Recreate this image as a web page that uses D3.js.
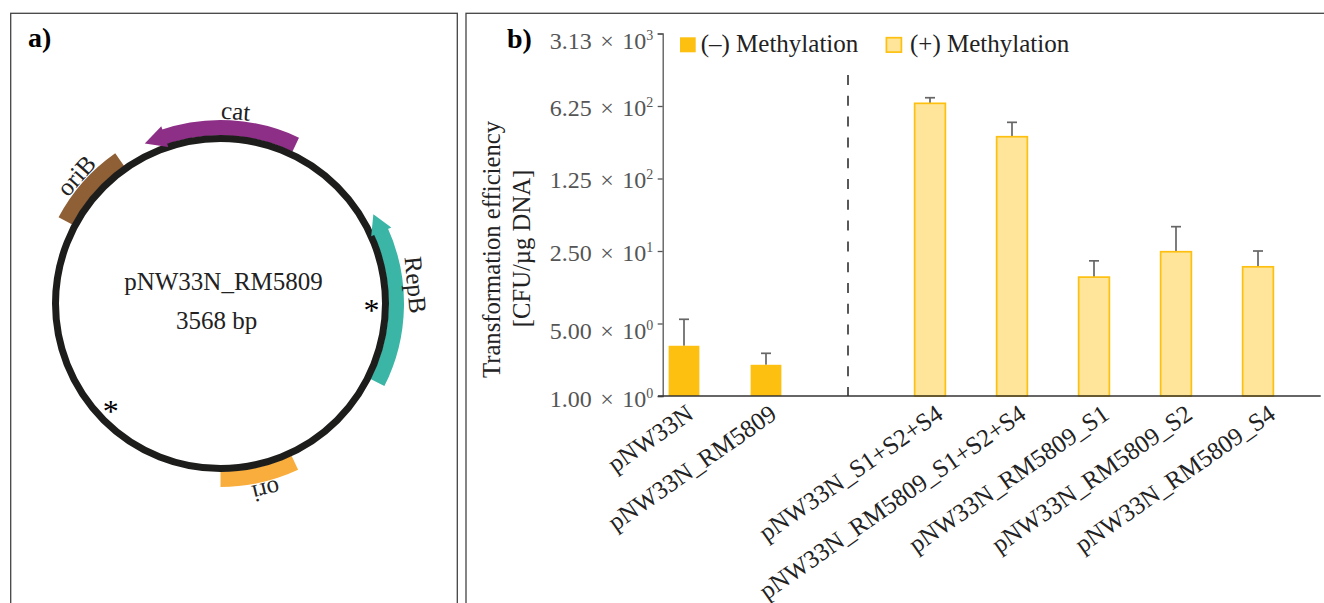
<!DOCTYPE html>
<html>
<head>
<meta charset="utf-8">
<script src="https://d3js.org/d3.v7.min.js"></script>
<style>
  body { margin: 0; background: #fff; overflow: hidden; }
  svg { display: block; }
  text { font-family: "Liberation Serif", serif; font-size: 25px; fill: #222; }
  .panel { fill: none; stroke: #444; stroke-width: 1.3; }
  .tag { font-size: 28px; font-weight: bold; fill: #000; }
</style>
</head>
<body>
<svg id="chart" width="1324" height="603"></svg>
<script>
// plasmid map, positions in bp from 12 o'clock (negative = before the origin)
const plasmidName = "pNW33N_RM5809";
const plasmidSize = 3568;
const featureNames = ["cat", "oriB", "RepB", "ori"];
const featureStart = [-183, -614, 654, 1536];
const featureEnd = [251, -347, 1157, 1784];
const featureTip = [-251, null, 592, null];
const featureLabelAt = [45, -480, 838, 1649];
const featureColors = ["#8e2f87", "#8f5f35", "#3ab5a6", "#f9ad3d"];
const siteMarks = [902, -1322];

// bar chart values
const categories = ["pNW33N", "pNW33N_RM5809", "", "pNW33N_S1+S2+S4", "pNW33N_RM5809_S1+S2+S4",
  "pNW33N_RM5809_S1", "pNW33N_RM5809_S2", "pNW33N_RM5809_S4"];
const efficiency = [3.05, 2.0, null, 663, 316, 14.0, 24.6, 17.6];
const upperError = [5.49, 2.58, null, 751, 435, 20.1, 42.9, 25.0];
const methylated = [false, false, null, true, true, true, true, true];
const tickValues = [1, 5, 25, 125, 625, 3125];
const tickMantissa = ["1.00", "5.00", "2.50", "1.25", "6.25", "3.13"];
const tickExponent = ["0", "0", "1", "2", "2", "3"];
const legendLabels = ["(\u2013) Methylation", "(+) Methylation"];

const svg = d3.select("#chart");

// panel frames run off the bottom of the page
svg.append("rect").attr("class", "panel").attr("x", 10.7).attr("y", 13.3).attr("width", 446.6).attr("height", 620);
svg.append("rect").attr("class", "panel").attr("x", 466).attr("y", 13.3).attr("width", 900).attr("height", 620);
svg.append("text").attr("class", "tag").attr("x", 28).attr("y", 47).text("a)");
svg.append("text").attr("class", "tag").attr("x", 507).attr("y", 48).text("b)");

// ---- a) plasmid
const map = svg.append("g").attr("transform", "translate(220.5,303.5)");
const angle = d3.scaleLinear().domain([0, plasmidSize]).range([0, 2 * Math.PI]);
const ringR = 165, shaftIn = 168, shaftOut = 183.5, headIn = 165, headOut = 187;

const arc = d3.arc().innerRadius(shaftIn).outerRadius(shaftOut);
const headLine = d3.lineRadial().angle(d => angle(d[0])).radius(d => d[1]);

featureNames.forEach((name, i) => {
  let a0 = featureStart[i], a1 = featureEnd[i];
  // small overlap so no seam shows under the arrow head
  if (featureTip[i] !== null) a0 += featureTip[i] < a0 ? -6 : 6;
  map.append("path")
    .attr("d", arc({ startAngle: angle(a0), endAngle: angle(a1) }))
    .attr("fill", featureColors[i]);
});

map.append("circle").attr("r", ringR).attr("fill", "none").attr("stroke", "#1d1d1b").attr("stroke-width", 7);

// arrow heads sit on top of the ring
featureNames.forEach((name, i) => {
  if (featureTip[i] === null) return;
  let a0 = featureStart[i];
  map.append("path")
    .attr("d", headLine([[a0, headIn], [featureTip[i], 177], [a0, headOut]]) + "Z")
    .attr("fill", featureColors[i]);
});

featureNames.forEach((name, i) => {
  let deg = angle(featureLabelAt[i]) * 180 / Math.PI;
  map.append("text")
    .attr("transform", "rotate(" + deg + ") translate(0," + (name === "RepB" ? -196 : -193) + ")")
    .attr("text-anchor", "middle")
    .attr("dominant-baseline", "central")
    .text(name);
});

// methylation sites
siteMarks.forEach(bp => {
  let a = angle(bp);
  map.append("text")
    .attr("x", Math.sin(a) * 151)
    .attr("y", -Math.cos(a) * 151 + 15)
    .attr("text-anchor", "middle")
    .style("font-size", "32px")
    .style("fill", "#000")
    .text("*");
});

map.append("text").attr("x", 3).attr("y", -13.5).attr("text-anchor", "middle").text(plasmidName);
map.append("text").attr("x", -4).attr("y", 25.5).attr("text-anchor", "middle").text(plasmidSize + " bp");

// ---- b) bars
const y = d3.scaleLog().domain([1, 3125]).range([396, 33.5]);
const x = d3.scaleBand().domain(categories).range([643, 1299]).paddingInner(0.625).paddingOuter(0.3125);
const xMid = d => x(d) + x.bandwidth() / 2;

const rows = categories.map((c, i) => ({ c: c, v: efficiency[i], up: upperError[i], m: methylated[i] }))
  .filter(d => d.v !== null);

const errorColor = "#666";
svg.append("g").selectAll("line").data(rows).enter().append("line")
  .attr("x1", d => xMid(d.c)).attr("x2", d => xMid(d.c))
  .attr("y1", d => y(d.v)).attr("y2", d => y(d.up))
  .attr("stroke", errorColor).attr("stroke-width", 1.7);
svg.append("g").selectAll("line").data(rows).enter().append("line")
  .attr("x1", d => xMid(d.c) - 5).attr("x2", d => xMid(d.c) + 5)
  .attr("y1", d => y(d.up)).attr("y2", d => y(d.up))
  .attr("stroke", errorColor).attr("stroke-width", 1.7);

svg.append("g").selectAll("rect").data(rows).enter().append("rect")
  .attr("x", d => x(d.c))
  .attr("width", x.bandwidth())
  .attr("y", d => y(d.v))
  .attr("height", d => y(1) - y(d.v))
  .attr("fill", d => d.m ? "#fee599" : "#fdc010")
  .attr("stroke", d => d.m ? "#fdc010" : "none")
  .attr("stroke-width", 1.7);

// divider between the two groups sits in the empty band
svg.append("line")
  .attr("x1", xMid("")).attr("x2", xMid(""))
  .attr("y1", 75).attr("y2", y(1))
  .attr("stroke", "#222").attr("stroke-width", 1.5)
  .attr("stroke-dasharray", "10,10.8");

// y axis
const yAxis = svg.append("g")
  .attr("transform", "translate(662.7,0)")
  .call(d3.axisLeft(y).tickValues(tickValues).tickSizeOuter(0).tickSize(5));
yAxis.selectAll("path,line").attr("stroke", "#555").attr("stroke-width", 1.3);
yAxis.selectAll("text").each(function (d) {
  let i = tickValues.indexOf(d);
  let t = d3.select(this).text(null)
    .attr("x", -9.5)
    .attr("dy", null)
    .attr("y", (d === 5 || d === 3125) ? 14.5 : (d === 1 ? 10.7 : 9.2))
    .style("font-family", '"Liberation Serif", serif')
    .style("font-size", "24px")
    .style("word-spacing", "2.5px")
    .style("fill", "#555");
  t.append("tspan").text(tickMantissa[i] + " \u00d7 10");
  t.append("tspan").attr("dy", -9).style("font-size", "14px").text(tickExponent[i]);
});

svg.append("text")
  .attr("transform", "translate(500,249.5) rotate(-90)")
  .attr("text-anchor", "middle")
  .style("font-size", "24.7px")
  .text("Transformation efficiency");
svg.append("text")
  .attr("transform", "translate(530,248.5) rotate(-90)")
  .attr("text-anchor", "middle")
  .style("font-size", "24.7px")
  .text("[CFU/\u00b5g DNA]");

// x axis
const xAxis = svg.append("g")
  .attr("transform", "translate(0,396)")
  .call(d3.axisBottom(x).tickSize(0).tickSizeOuter(0));
xAxis.select(".domain").remove();
xAxis.selectAll("text")
  .attr("x", null).attr("y", null).attr("dy", null)
  .attr("text-anchor", "end")
  .attr("transform", (d, i) => "translate(" + (11 + i * 1.15) + ",21.5) rotate(-35)")
  .style("font-family", '"Liberation Serif", serif')
  .style("font-size", "25px")
  .style("fill", "#222");
svg.append("line")
  .attr("x1", 658).attr("x2", 1320.7)
  .attr("y1", y(1)).attr("y2", y(1))
  .attr("stroke", "#333").attr("stroke-width", 1.3);

// legend
const legendX = [680, 885.7];
legendLabels.forEach((label, i) => {
  svg.append("rect")
    .attr("x", legendX[i] + (i ? 0.7 : 0)).attr("y", i ? 37.7 : 37.3)
    .attr("width", i ? 15 : 15.7).attr("height", i ? 14.4 : 15)
    .attr("fill", i ? "#fee599" : "#fdc010")
    .attr("stroke", i ? "#fdc010" : "none")
    .attr("stroke-width", 1.7);
  svg.append("text")
    .attr("x", legendX[i] + (i ? 24.3 : 20.7))
    .attr("y", 51.7)
    .text(label);
});
</script>
</body>
</html>
